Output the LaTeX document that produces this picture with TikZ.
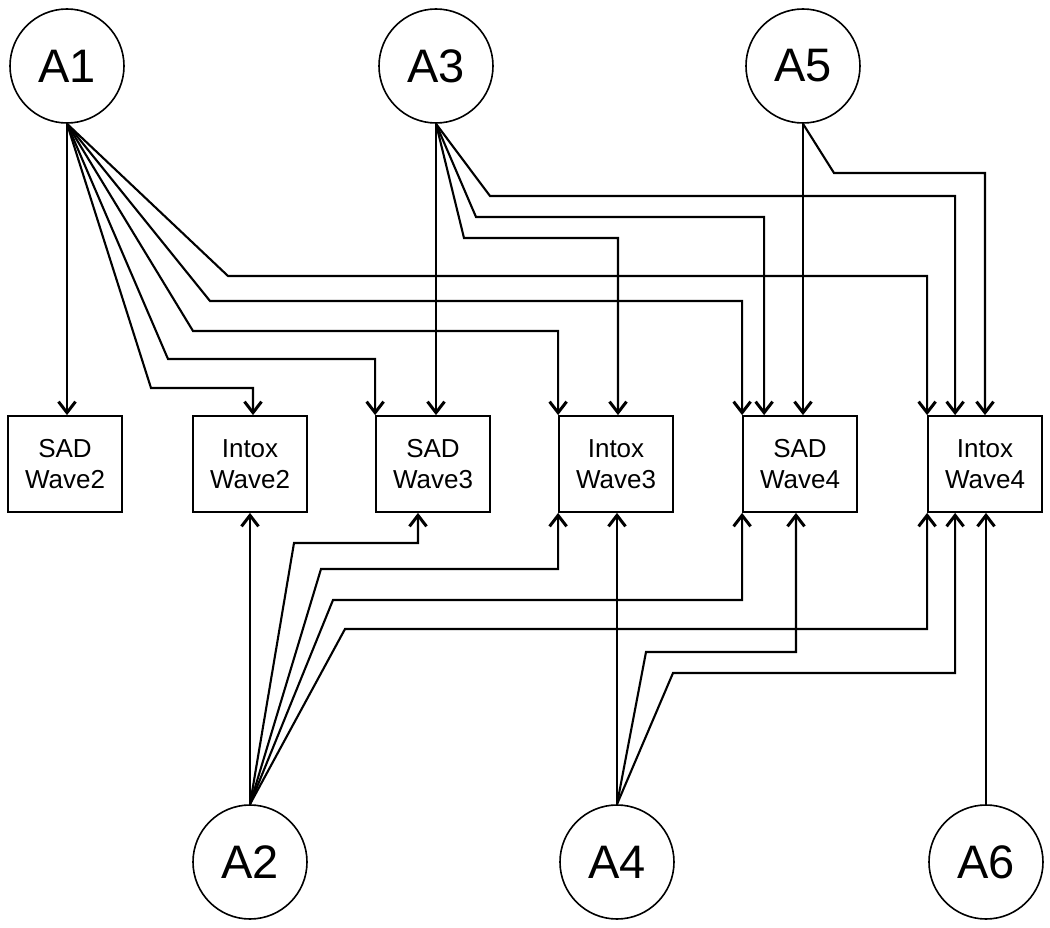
\documentclass[tikz,border=0pt]{standalone}
\usepackage{fontspec}
\setmainfont{Liberation Sans}
\usetikzlibrary{arrows.meta}
\tikzset{
  agent/.style={draw,circle,line width=1.6pt,minimum size=114pt,inner sep=0pt,
    font=\fontsize{47}{52}\selectfont},
  wave/.style={draw,rectangle,line width=1.8pt,minimum width=114pt,minimum height=96pt,
    inner sep=0pt,align=center,font=\fontsize{26}{31}\selectfont},
  arr/.style={line width=2.1pt,-{Straight Barb[length=11pt,width=17pt,line width=3pt]}}
}
\begin{document}
\begin{tikzpicture}[x=1pt,y=-1pt]
	\useasboundingbox (0,0) rectangle (1050,928);
	% top and bottom circles
	\node[agent] (A1) at (67,66) {A1};
	\node[agent] (A3) at (436,66) {A3};
	\node[agent] (A5) at (803,66) {A5};
	\node[agent] (A2) at (250,862) {A2};
	\node[agent] (A4) at (617,862) {A4};
	\node[agent] (A6) at (986,862) {A6};
	% the wave boxes
	\foreach \n/\x/\a/\b in {SW2/65/SAD/Wave2,IW2/250/Intox/Wave2,SW3/433/SAD/Wave3,
		IW3/616/Intox/Wave3,SW4/800/SAD/Wave4,IW4/985/Intox/Wave4}
	\node[wave] (\n) at (\x,464) {\a\\\b};
	% from A1
	\draw[arr] (A1.south) -- (A1.south |- SW2.north);
	\draw[arr] (A1.south) -- (151,388) -| ([xshift=3pt]IW2.north);
	\draw[arr] (A1.south) -- (168,359) -| (SW3.north west);
	\draw[arr] (A1.south) -- (193,331) -| (IW3.north west);
	\draw[arr] (A1.south) -- (210,301) -| (SW4.north west);
	\draw[arr] (A1.south) -- (228,276) -| (IW4.north west);
	% from A3
	\draw[arr] (A3.south) -- (A3.south |- SW3.north);
	\draw[arr] (A3.south) -- (464,238) -| ([xshift=2pt]IW3.north);
	\draw[arr] (A3.south) -- (476,217) -| ([xshift=22pt]SW4.north west);
	\draw[arr] (A3.south) -- (490,196) -| ([xshift=28pt]IW4.north west);
	% from A5
	\draw[arr] (A5.south) -- (A5.south |- SW4.north);
	\draw[arr] (A5.south) -- (834,173) -| (IW4.north);
	% from A2
	\draw[arr] (A2.north) -- (A2.north |- IW2.south);
	\draw[arr] (A2.north) -- (294,543) -| ([xshift=-15pt]SW3.south);
	\draw[arr] (A2.north) -- (321,569) -| (IW3.south west);
	\draw[arr] (A2.north) -- (333,600) -| (SW4.south west);
	\draw[arr] (A2.north) -- (345,629) -| (IW4.south west);
	% from A4
	\draw[arr] (A4.north) -- (A4.north |- IW3.south);
	\draw[arr] (A4.north) -- (646,652) -| ([xshift=-4pt]SW4.south);
	\draw[arr] (A4.north) -- (673,673) -| ([xshift=28pt]IW4.south west);
	% from A6
	\draw[arr] (A6.north) -- (A6.north |- IW4.south);
\end{tikzpicture}
\end{document}
